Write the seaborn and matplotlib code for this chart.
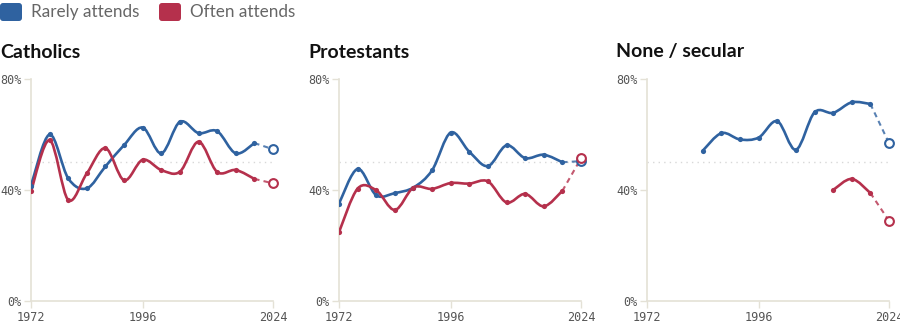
import numpy as np
import pandas as pd
import matplotlib
matplotlib.use('Agg')
import matplotlib.pyplot as plt
import seaborn as sns
from matplotlib.path import Path
from matplotlib.patches import PathPatch, FancyBboxPatch
from matplotlib.transforms import IdentityTransform

# Democratic share by religious attendance, election years
years = [1972, 1976, 1980, 1984, 1988, 1992, 1996, 2000, 2004, 2008, 2012, 2016, 2020, 2024]

catholic_rarely = [41.6, 60.0, 44.2, 40.6, 48.5, 56.2, 62.5, 53.2, 64.6, 60.5, 61.2, 53.2, 56.9, 54.7]
catholic_often = [39.5, 58.0, 36.4, 46.0, 55.1, 43.5, 50.9, 47.2, 46.6, 57.4, 46.5, 47.2, 44.0, 42.4]

protestant_rarely = [35.1, 47.6, 38.1, 38.9, 40.9, 47.1, 60.7, 53.8, 48.6, 56.1, 51.5, 52.7, 50.0, 50.4]
protestant_often = [24.8, 40.5, 39.9, 32.8, 40.9, 40.4, 42.5, 42.3, 43.1, 35.5, 38.6, 34.1, 39.7, 51.4]

nan = np.nan
none_rarely = [nan, nan, nan, 54.2, 60.5, 58.2, 58.9, 64.8, 54.5, 68.0, 67.8, 71.6, 71.0, 56.9]
none_often = [nan, nan, nan, nan, nan, nan, nan, nan, nan, nan, 40.0, 44.0, 38.9, 28.9]

panels = ['Catholics', 'Protestants', 'None / secular']
series = {
    'Catholics': (catholic_rarely, catholic_often),
    'Protestants': (protestant_rarely, protestant_often),
    'None / secular': (none_rarely, none_often),
}
labels = ['Rarely attends', 'Often attends']
colors = {'Rarely attends': '#2f62a0', 'Often attends': '#b5304c'}

ref_line = 50
y_ticks = [0, 40, 80]
x_ticks = [1972, 1996, 2024]

sns.set_theme(style='white')
plt.rcParams['font.family'] = ['Lato', 'DejaVu Sans']

fig = plt.figure(figsize=(9, 3.31), dpi=100)

spine_col = '#e4e1d6'


def smooth_path(xs, ys):
    # catmull-rom through the points, as bezier segments
    pts = np.column_stack([xs, ys])
    verts = [pts[0]]
    codes = [Path.MOVETO]
    n = len(pts)
    for i in range(n - 1):
        p0 = pts[max(i - 1, 0)]
        p1 = pts[i]
        p2 = pts[i + 1]
        p3 = pts[min(i + 2, n - 1)]
        verts += [p1 + (p2 - p0) / 6, p2 - (p3 - p1) / 6, p2]
        codes += [Path.CURVE4] * 3
    return Path(verts, codes)


for k, name in enumerate(panels):
    left_px = 31 + 308 * k
    ax = fig.add_axes([left_px / 900, 30 / 331, 242 / 900, 222 / 331])
    ax.axhline(ref_line, color='#d8d8d8', lw=1, ls=(0, (1, 3)), zorder=1)

    for lab, vals in zip(labels, series[name]):
        col = colors[lab]
        df = pd.DataFrame({'year': years, 'value': vals}).dropna()
        solid = df[df['year'] < 2024]
        last = df[df['year'] == 2024]

        if len(solid) > 1:
            ax.add_patch(PathPatch(smooth_path(solid['year'].values, solid['value'].values),
                                   facecolor='none', edgecolor=col, lw=1.9, zorder=3,
                                   capstyle='round', joinstyle='round'))
        sns.scatterplot(data=solid, x='year', y='value', ax=ax, color=col, s=14,
                        linewidth=0, zorder=4, legend=False)

        seg = pd.concat([solid.tail(1), last])
        sns.lineplot(data=seg, x='year', y='value', ax=ax, color=col, lw=1.5,
                     alpha=0.8, zorder=3, legend=False)
        ax.lines[-1].set_dashes((2.5, 2))
        ax.scatter(last['year'], last['value'], s=40, facecolor='white', edgecolor=col,
                   linewidth=1.5, zorder=5, clip_on=False)

    ax.set_xlim(1972, 2024)
    ax.set_ylim(0, 80)
    ax.set_xticks(x_ticks)
    ax.set_yticks(y_ticks)
    ax.set_yticklabels([f'{t}%' for t in y_ticks])
    ax.set_xlabel('')
    ax.set_ylabel('')
    for s in ['top', 'right']:
        ax.spines[s].set_visible(False)
    for s in ['left', 'bottom']:
        ax.spines[s].set_color(spine_col)
        ax.spines[s].set_linewidth(1.2)
    ax.tick_params(axis='both', length=5, width=1, color=spine_col, labelcolor='#555',
                   labelsize=8.5, pad=2, left=True, bottom=True)
    for t in ax.get_xticklabels() + ax.get_yticklabels():
        t.set_family('DejaVu Sans Mono')

    fig.text((308 * k) / 900, 1 - 52 / 331, name, fontsize=14, fontweight='bold',
             color='#111111', va='center', ha='left')

# legend across the top
for i, lab in enumerate(labels):
    x0 = [0, 159][i]
    box = FancyBboxPatch((x0, 331 - 21), 22, 18, boxstyle='round,pad=0,rounding_size=3',
                         facecolor=colors[lab], edgecolor='none', transform=IdentityTransform())
    fig.add_artist(box)
    fig.text((x0 + 31) / 900, 1 - 12 / 331, lab, fontsize=12.3, color='#666666',
             va='center', ha='left')

fig.savefig('out.png', dpi=100)
